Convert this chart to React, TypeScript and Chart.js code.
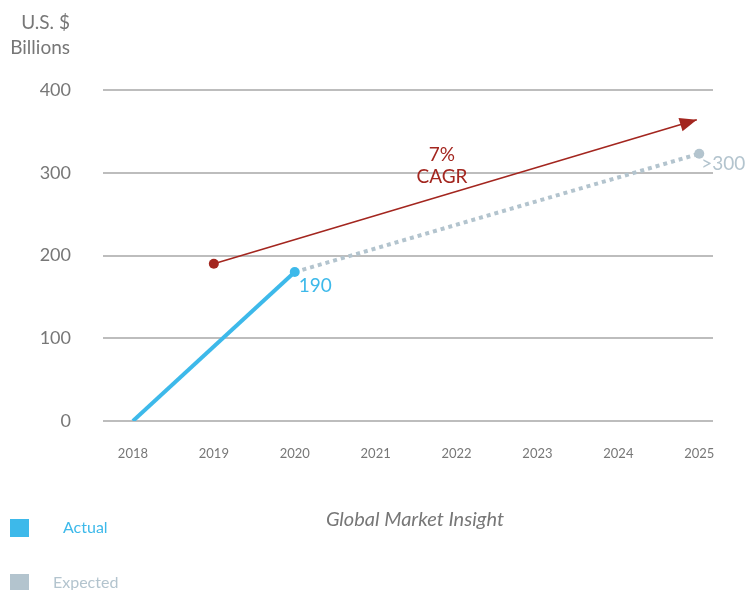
import React, { useEffect, useRef } from "react";
import { Chart, registerables } from "chart.js";

Chart.register(...registerables);

const years = [2018, 2019, 2020, 2021, 2022, 2023, 2024, 2025];
const yTicks = [0, 100, 200, 300, 400];
const actualYears = [2018, 2020];
const actualValues = [0, 180];
const expectedYears = [2020, 2025];
const expectedValues = [180, 323];
const cagrYears = [2019, 2024.97];
const cagrValues = [190, 364];
const actualLabel = "190";
const expectedLabel = ">300";
const cagrLabel = ["7%", "CAGR"];

const BLUE = "#3db9ea";
const GRAY = "#b3c4ce";
const RED = "#a3261f";
const TEXT = "#777777";
const FONT = "Lato, 'Open Sans', sans-serif";

const pts = (xs: number[], ys: number[]) => xs.map((x, i) => ({ x, y: ys[i] }));

const overlayPlugin = {
  id: "overlay",
  afterDatasetsDraw(chart: any) {
    const ctx = chart.ctx;
    const xs = chart.scales.x;
    const ys = chart.scales.y;
    // arrowhead for CAGR line
    const x0 = xs.getPixelForValue(cagrYears[0]);
    const y0 = ys.getPixelForValue(cagrValues[0]);
    const x1 = xs.getPixelForValue(cagrYears[1]);
    const y1 = ys.getPixelForValue(cagrValues[1]);
    const ang = Math.atan2(y1 - y0, x1 - x0);
    const L = 17, W = 7;
    ctx.save();
    ctx.fillStyle = RED;
    ctx.beginPath();
    ctx.moveTo(x1, y1);
    ctx.lineTo(x1 - L * Math.cos(ang) + W * Math.sin(ang), y1 - L * Math.sin(ang) - W * Math.cos(ang));
    ctx.lineTo(x1 - L * Math.cos(ang) - W * Math.sin(ang), y1 - L * Math.sin(ang) + W * Math.cos(ang));
    ctx.closePath();
    ctx.fill();

    ctx.font = `19px ${FONT}`;
    ctx.textBaseline = "middle";
    // CAGR label
    const mx = xs.getPixelForValue(2021.82);
    const my = ys.getPixelForValue(308);
    ctx.fillStyle = RED;
    ctx.textAlign = "center";
    ctx.fillText(cagrLabel[0], mx, my - 11);
    ctx.fillText(cagrLabel[1], mx, my + 11);
    // actual label
    ctx.fillStyle = BLUE;
    ctx.textAlign = "left";
    ctx.fillText(actualLabel, xs.getPixelForValue(actualYears[1]) + 4, ys.getPixelForValue(actualValues[1]) + 14);
    // expected label
    ctx.fillStyle = GRAY;
    ctx.fillText(expectedLabel, xs.getPixelForValue(expectedYears[1]) + 2, ys.getPixelForValue(expectedValues[1]) + 10);
    ctx.restore();
  },
};

export default function App() {
  const ref = useRef<HTMLCanvasElement>(null);
  useEffect(() => {
    const chart = new Chart(ref.current as HTMLCanvasElement, {
      type: "line",
      data: {
        datasets: [
          {
            label: "Actual",
            data: pts(actualYears, actualValues),
            borderColor: BLUE,
            backgroundColor: BLUE,
            borderWidth: 4,
            pointRadius: [0, 5],
            pointBorderWidth: 0,
            order: 1,
          },
          {
            label: "Expected",
            data: pts(expectedYears, expectedValues),
            borderColor: GRAY,
            backgroundColor: GRAY,
            borderWidth: 4,
            borderDash: [4, 4],
            borderCapStyle: "butt",
            pointRadius: [0, 5],
            pointBorderWidth: 0,
            order: 2,
          },
          {
            label: "CAGR",
            data: pts(cagrYears, cagrValues),
            borderColor: RED,
            backgroundColor: RED,
            borderWidth: 1.6,
            pointRadius: [5, 0],
            pointBorderWidth: 0,
            order: 0,
          },
        ],
      },
      options: {
        animation: false,
        responsive: false,
        layout: { padding: { top: 90, left: 0, right: 32, bottom: 0 } },
        plugins: { legend: { display: false }, tooltip: { enabled: false } },
        scales: {
          x: {
            type: "linear",
            min: 2017.63,
            max: 2025.17,
            afterBuildTicks: (axis: any) => {
              axis.ticks = years.map((v) => ({ value: v }));
            },
            afterFit: (axis: any) => {
              axis.height = 169;
            },
            grid: { display: false, drawTicks: false },
            border: { display: false },
            ticks: {
              padding: 25,
              color: TEXT,
              font: { size: 13, family: FONT },
              maxRotation: 0,
              autoSkip: false,
              callback: (v: any) => String(v),
            },
          },
          y: {
            min: 0,
            max: 400,
            afterBuildTicks: (axis: any) => {
              axis.ticks = yTicks.map((v) => ({ value: v }));
            },
            afterFit: (axis: any) => {
              axis.width = 103;
            },
            grid: { color: "#bdbdbd", lineWidth: 2, drawTicks: false },
            border: { display: false },
            ticks: {
              padding: 32,
              color: TEXT,
              font: { size: 18, family: FONT },
            },
          },
        },
      },
      plugins: [overlayPlugin],
    } as any);
    return () => chart.destroy();
  }, []);

  const txt: React.CSSProperties = {
    position: "absolute",
    fontFamily: FONT,
    fontSize: 19,
    color: TEXT,
    whiteSpace: "nowrap",
    lineHeight: "20px",
  };

  return (
    <div style={{ position: "absolute", left: 0, top: 0, width: 745, height: 590, background: "#fff", overflow: "hidden" }}>
      <canvas ref={ref} width={745} height={590} style={{ position: "absolute", left: 0, top: 0 }} />
      <div style={{ ...txt, right: 745 - 70, top: 12, textAlign: "right" }}>U.S. $</div>
      <div style={{ ...txt, right: 745 - 70, top: 37, textAlign: "right" }}>Billions</div>
      <div style={{ ...txt, left: 215, width: 400, top: 508, fontSize: 20, textAlign: "center", fontStyle: "italic" }}>Global Market Insight</div>
      <div style={{ position: "absolute", left: 10, top: 519, width: 19, height: 18, background: BLUE }} />
      <div style={{ ...txt, left: 63, top: 517, fontSize: 16, color: BLUE }}>Actual</div>
      <div style={{ position: "absolute", left: 10, top: 574, width: 19, height: 18, background: GRAY }} />
      <div style={{ ...txt, left: 53, top: 572, fontSize: 16, color: GRAY }}>Expected</div>
    </div>
  );
}
